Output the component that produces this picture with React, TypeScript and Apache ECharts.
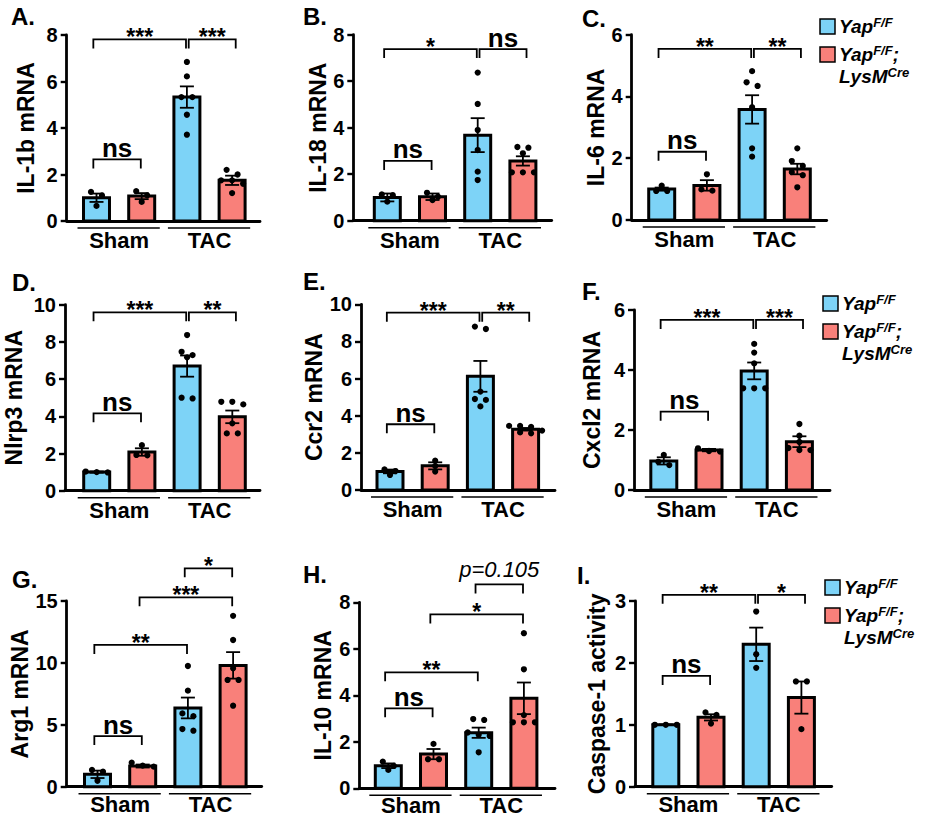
import React, { useEffect, useRef } from 'react';
import * as echarts from 'echarts';

const panelLetters = ['A.', 'B.', 'C.', 'D.', 'E.', 'F.', 'G.', 'H.', 'I.'];
const yTitles = ['IL-1b mRNA', 'IL-18 mRNA', 'IL-6 mRNA', 'Nlrp3 mRNA', 'Ccr2 mRNA', 'Cxcl2 mRNA', 'Arg1 mRNA', 'IL-10 mRNA', 'Caspase-1 activity'];
const yMaxes = [8, 8, 6, 10, 10, 6, 15, 8, 3];
const yIntervals = [2, 2, 2, 2, 2, 2, 5, 2, 1];
const groupLabels = ['Sham', 'TAC'];

// Bar order in each panel: Sham-Yap, Sham-Cre, TAC-Yap, TAC-Cre
const barMeans = [
  [1.0, 1.07, 5.33, 1.75],
  [1.0, 1.03, 3.68, 2.57],
  [1.0, 1.12, 3.58, 1.65],
  [1.0, 2.08, 6.7, 3.97],
  [1.0, 1.3, 6.12, 3.27],
  [0.97, 1.33, 3.97, 1.61],
  [1.0, 1.67, 6.36, 9.8],
  [0.97, 1.47, 2.39, 3.87],
  [1.0, 1.12, 2.3, 1.44],
];
const barSems = [
  [0.18, 0.13, 0.46, 0.2],
  [0.17, 0.14, 0.73, 0.2],
  [0.05, 0.17, 0.46, 0.17],
  [0.03, 0.2, 0.57, 0.34],
  [0.1, 0.19, 0.83, 0.07],
  [0.12, 0.04, 0.28, 0.18],
  [0.3, 0.12, 0.84, 1.07],
  [0.1, 0.22, 0.22, 0.68],
  [0.005, 0.05, 0.27, 0.26],
];
const dotValues = [
  [[1.25, 0.65, 1.1], [1.28, 0.82, 1.1], [6.84, 6.22, 5.33, 5.33, 4.57, 3.71], [2.2, 2.0, 1.75, 1.75, 1.6, 1.2]],
  [[1.13, 0.82, 1.1], [1.2, 0.89, 1.03], [6.37, 5.02, 3.9, 3.04, 2.11, 1.75], [3.14, 3.17, 2.9, 2.08, 2.08, 2.08]],
  [[1.11, 0.94, 0.94], [1.48, 0.99, 0.95], [4.82, 4.46, 4.34, 3.65, 2.32, 2.05], [2.32, 1.91, 1.75, 1.55, 1.45, 1.06]],
  [[1.0, 1.03, 0.98], [2.45, 1.92, 1.9], [8.37, 7.47, 7.29, 7.17, 4.96, 5.0], [4.78, 4.64, 4.78, 3.62, 3.08, 3.08]],
  [[1.11, 0.81, 1.02], [1.58, 0.99, 1.29], [8.8, 8.67, 5.3, 4.9, 4.85, 4.5], [3.45, 3.4, 3.45, 3.2, 3.1, 3.05]],
  [[1.17, 0.83, 0.94], [1.39, 1.28, 1.3], [4.87, 4.58, 4.22, 3.39, 3.39, 3.39], [2.2, 1.81, 1.6, 1.4, 1.33, 1.33]],
  [[1.35, 1.21, 0.48], [1.94, 1.7, 1.62], [9.75, 7.76, 5.92, 5.7, 4.52, 4.66], [13.8, 11.85, 9.56, 8.62, 8.62, 6.54]],
  [[1.15, 0.96, 0.79], [1.91, 1.25, 1.25], [2.94, 2.98, 2.4, 2.3, 2.25, 1.55], [6.67, 5.12, 3.15, 2.84, 2.84, 2.84]],
  [[1.0, 1.0, 1.0], [1.2, 1.16, 1.02], [2.83, 2.14, 1.92], [1.7, 1.7, 0.93]],
];
// [fromBar, toBar, bracketHeight, label]
const brackets: [number, number, number, string][][] = [
  [[0, 2, 7.81, '***'], [2, 3, 7.81, '***'], [0, 1, 2.65, 'ns']],
  [[0, 2, 7.38, '*'], [2, 3, 7.38, 'ns'], [0, 1, 2.57, 'ns']],
  [[0, 2, 5.54, '**'], [2, 3, 5.54, '**'], [0, 1, 2.21, 'ns']],
  [[0, 2, 9.59, '***'], [2, 3, 9.59, '**'], [0, 1, 4.16, 'ns']],
  [[0, 2, 9.55, '***'], [2, 3, 9.55, '**'], [0, 1, 3.54, 'ns']],
  [[0, 2, 5.67, '***'], [2, 3, 5.67, '***'], [0, 1, 2.61, 'ns']],
  [[0, 2, 11.45, '**'], [1, 3, 15.3, '***'], [2, 3, 17.64, '*'], [0, 1, 4.09, 'ns']],
  [[0, 2, 4.99, '**'], [1, 3, 7.48, '*'], [2, 3, 8.77, 'p=0.105'], [0, 1, 3.44, 'ns']],
  [[0, 2, 3.1, '**'], [2, 3, 3.1, '*'], [0, 1, 1.79, 'ns']],
];

// ---- layout (pixels) ----
const layout = [
  { axisX: 66.7, top: 35, bottom: 221, end: 260, c1: 96.5, gap: 29, lx: 11, ly: 16, gl: 19.5 },
  { axisX: 353.3, top: 34.7, bottom: 220.7, end: 551.7, c1: 387.3, gap: 20.5, lx: 303, ly: 16, gl: 19.5 },
  { axisX: 631.7, top: 34.7, bottom: 220, end: 826.7, c1: 661.7, gap: 24.5, lx: 582, ly: 18, gl: 19.5 },
  { axisX: 65, top: 304.7, bottom: 490.7, end: 260, c1: 96.7, gap: 39.5, lx: 12, ly: 282, gl: 19.5 },
  { axisX: 361, top: 304.3, bottom: 490, end: 555, c1: 390, gap: 32, lx: 303, ly: 281, gl: 19.5 },
  { axisX: 634, top: 310, bottom: 490, end: 830, c1: 663.8, gap: 31, lx: 582, ly: 291, gl: 19.5 },
  { axisX: 66.7, top: 601, bottom: 786.7, end: 261.7, c1: 97.5, gap: 33, lx: 12, ly: 579, gl: 17.3 },
  { axisX: 359.3, top: 602.3, bottom: 788.3, end: 555, c1: 388.3, gap: 24.8, lx: 303, ly: 574, gl: 17.3 },
  { axisX: 635, top: 601, bottom: 786.7, end: 831.7, c1: 665.8, gap: 27, lx: 577, ly: 575, gl: 17.3 },
];
const legendPos = [
  { x: 820, y: 19 },
  { x: 823, y: 296 },
  { x: 825, y: 580 },
];
const SPACING = 45.2;
const FONT = 'Liberation Sans, Arial, Helvetica, sans-serif';
const BLUE = '#7DD3F7';
const RED = '#F9807A';
const barColors = [BLUE, RED, BLUE, RED];

function buildOption() {
  const grid: any[] = [];
  const xAxis: any[] = [];
  const yAxis: any[] = [];
  const series: any[] = [];
  const graphic: any[] = [];

  layout.forEach((L, p) => {
    grid.push({ left: L.axisX, top: L.top, width: L.end - L.axisX, height: L.bottom - L.top, containLabel: false });
    xAxis.push({
      gridIndex: p, type: 'value',
      min: (L.axisX - L.c1) / SPACING, max: (L.end - L.c1) / SPACING,
      axisLine: { show: true, onZero: false, lineStyle: { color: '#000', width: 2.8 } },
      axisTick: { show: false }, axisLabel: { show: false }, splitLine: { show: false },
    });
    yAxis.push({
      gridIndex: p, type: 'value', min: 0, max: yMaxes[p], interval: yIntervals[p],
      name: yTitles[p], nameLocation: 'middle', nameRotate: 90, nameGap: L.gap,
      nameTextStyle: { fontFamily: FONT, fontWeight: 'bold', fontSize: 23, color: '#000' },
      axisLine: { show: true, onZero: false, lineStyle: { color: '#000', width: 2.8 } },
      axisTick: { show: true, inside: false, length: 6, lineStyle: { color: '#000', width: 2.4 } },
      axisLabel: { fontFamily: FONT, fontWeight: 'bold', fontSize: 20, color: '#000', margin: 9 },
      splitLine: { show: false },
    });

    // bars + error bars + dots
    series.push({
      type: 'custom', xAxisIndex: p, yAxisIndex: p, clip: false,
      data: barMeans[p].map((m, i) => [i, m, barSems[p][i]]),
      encode: { x: 0, y: 1 },
      renderItem: (params: any, api: any) => {
        const i = api.value(0);
        const mean = api.value(1);
        const sem = api.value(2);
        const base = api.coord([i, 0]);
        const top = api.coord([i, mean]);
        const band = api.size([1, 0])[0];
        const w = band * 0.575;
        const cx = base[0];
        const children: any[] = [];
        children.push({
          type: 'rect',
          shape: { x: cx - w / 2, y: top[1], width: w, height: base[1] - top[1] },
          style: { fill: barColors[i], stroke: '#000', lineWidth: 3 },
        });
        const hi = api.coord([i, mean + sem])[1];
        const lo = api.coord([i, mean - sem])[1];
        const cap = 7;
        const es = { stroke: '#000', lineWidth: 1.8 };
        children.push({ type: 'line', shape: { x1: cx, y1: lo, x2: cx, y2: hi }, style: es });
        children.push({ type: 'line', shape: { x1: cx - cap, y1: hi, x2: cx + cap, y2: hi }, style: es });
        children.push({ type: 'line', shape: { x1: cx - cap, y1: lo, x2: cx + cap, y2: lo }, style: es });
        // dots with pixel-based jitter for overlapping values
        const pts = dotValues[p][i]
          .map((v: number) => ({ v, y: api.coord([i, v])[1] }))
          .sort((a: any, b: any) => a.y - b.y);
        const clusters: any[][] = [];
        pts.forEach((pt: any) => {
          const last = clusters[clusters.length - 1];
          if (last && Math.abs(pt.y - last[0].y) < 5) last.push(pt);
          else clusters.push([pt]);
        });
        clusters.forEach((cl) => {
          const n = cl.length;
          const sp = 11;
          cl.forEach((pt: any, k: number) => {
            const dx = (k - (n - 1) / 2) * sp;
            children.push({ type: 'circle', shape: { cx: cx + dx, cy: pt.y, r: 3.1 }, style: { fill: '#000' } });
          });
        });
        return { type: 'group', children };
      },
    });

    // significance brackets
    const pb = brackets[p];
    series.push({
      type: 'custom', xAxisIndex: p, yAxisIndex: p, clip: false, silent: true,
      data: pb.map((b) => [b[0], b[1], b[2]]),
      encode: { x: [0, 1], y: 2 },
      renderItem: (params: any, api: any) => {
        const [i, j, h, label] = pb[params.dataIndex];
        const shared = pb.some((o) => o !== pb[params.dataIndex] && o[1] === i && o[2] === h);
        const xl = shared ? i + 0.04 : i - 0.07;
        const xr = shared ? j + 0.08 : j - 0.02;
        const yTop = api.coord([0, h])[1];
        const xlP = api.coord([xl, h])[0];
        const xrP = api.coord([xr, h])[0];
        const leg = 9;
        const children: any[] = [
          {
            type: 'polyline',
            shape: { points: [[xlP, yTop + leg], [xlP, yTop], [xrP, yTop], [xrP, yTop + leg]] },
            style: { stroke: '#000', lineWidth: 1.8, fill: null },
          },
        ];
        let font: any;
        let off: number;
        if (label === 'ns') { font = { fontSize: 26, fontWeight: 'bold', fontStyle: 'normal' }; off = 11.5; }
        else if (label.startsWith('p=')) { font = { fontSize: 22, fontWeight: 'normal', fontStyle: 'italic' }; off = 15; }
        else { font = { fontSize: 23, fontWeight: 'bold', fontStyle: 'normal' }; off = 2; }
        children.push({
          type: 'text', x: (xlP + xrP) / 2, y: yTop - off,
          style: { text: label, fontFamily: FONT, ...font, fill: '#000', align: 'center', verticalAlign: 'middle' },
        });
        return { type: 'group', children };
      },
    });

    // group labels under axis
    series.push({
      type: 'custom', xAxisIndex: p, yAxisIndex: p, clip: false, silent: true,
      data: groupLabels.map((g, k) => [2 * k + 0.5, 0]),
      encode: { x: 0, y: 1 },
      renderItem: (params: any, api: any) => {
        const k = params.dataIndex;
        const y0 = api.coord([0, 0])[1];
        const x1 = api.coord([2 * k - 0.42, 0])[0];
        const x2 = api.coord([2 * k + 1.4, 0])[0];
        const xc = api.coord([2 * k + 0.5, 0])[0];
        return {
          type: 'group',
          children: [
            { type: 'line', shape: { x1, y1: y0 + 7, x2, y2: y0 + 7 }, style: { stroke: '#000', lineWidth: 1.5 } },
            {
              type: 'text', x: xc, y: y0 + L.gl,
              style: { text: groupLabels[k], fontFamily: FONT, fontSize: 22, fontWeight: 'bold', fill: '#000', align: 'center', verticalAlign: 'middle', lineHeight: 20 },
            },
          ],
        };
      },
    });

    graphic.push({
      type: 'text', x: L.lx, y: L.ly,
      style: { text: panelLetters[p], fontFamily: FONT, fontSize: 24, fontWeight: 'bold', fill: '#000', align: 'left', verticalAlign: 'middle' },
    });
  });

  const rich = {
    a: { fontFamily: FONT, fontSize: 19, fontWeight: 'bold', fontStyle: 'italic', color: '#000', lineHeight: 22 },
    s: { fontFamily: FONT, fontSize: 13, fontWeight: 'bold', fontStyle: 'italic', color: '#000', lineHeight: 15, verticalAlign: 'top' },
  };
  legendPos.forEach((pos) => {
    const sq = 15;
    graphic.push({ type: 'rect', shape: { x: pos.x, y: pos.y, width: sq, height: sq }, style: { fill: BLUE, stroke: '#000', lineWidth: 1.5 } });
    graphic.push({ type: 'text', x: pos.x + 19, y: pos.y + sq / 2 - 11, style: { text: '{a|Yap}{s|F/F}', rich, verticalAlign: 'top', align: 'left' } });
    graphic.push({ type: 'rect', shape: { x: pos.x, y: pos.y + 28, width: sq, height: sq }, style: { fill: RED, stroke: '#000', lineWidth: 1.5 } });
    graphic.push({
      type: 'text', x: pos.x + 19, y: pos.y + 28 + sq / 2 - 11,
      style: { text: '{a|Yap}{s|F/F}{a|;}\n{a|LysM}{s|Cre}', rich, verticalAlign: 'top', align: 'left' },
    });
  });

  return { animation: false, backgroundColor: '#fff', grid, xAxis, yAxis, series, graphic };
}

export default function App() {
  const ref = useRef<HTMLDivElement>(null);
  useEffect(() => {
    if (!ref.current) return;
    const chart = echarts.init(ref.current, undefined, { renderer: 'svg' });
    chart.setOption(buildOption() as any);
    return () => chart.dispose();
  }, []);
  return <div ref={ref} style={{ position: 'fixed', left: 0, top: 0, width: 930, height: 817, background: '#fff' }} />;
}
